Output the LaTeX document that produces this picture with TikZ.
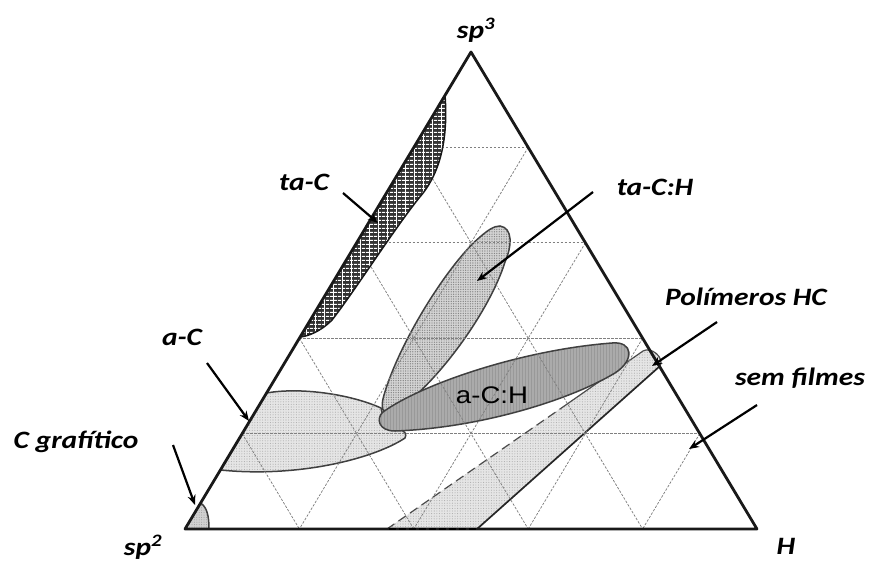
\documentclass[tikz,border=0pt]{standalone}
\usepackage{fontspec}
\newfontfamily\labfont[FakeStretch=1.18]{Carlito}
\newfontfamily\arialfont[FakeStretch=1.15]{Liberation Sans}
\usetikzlibrary{arrows.meta,patterns.meta,calc}
\begin{document}
\begin{tikzpicture}[x=1pt,y=-1pt,
  side/.style={line width=2.8pt, black!90, line join=round},
  gridline/.style={black!50, line width=0.75pt, dash pattern=on 2.5pt off 1.5pt},
  outl/.style={line width=1.5pt, black!75},
  lightreg/.style={fill=black!10, postaction={pattern={Dots[radius=0.55pt,distance=2.6pt]}, pattern color=black!32}},
  midreg/.style={fill=black!17, postaction={pattern={Dots[radius=0.7pt,distance=2.4pt]}, pattern color=black!48}},
  lab/.style={font=\labfont\bfseries\itshape\fontsize{25}{30}\selectfont, inner sep=0pt},
  arr/.style={line width=2.2pt, black, -{Stealth[length=10pt,width=8pt]}},
]
\useasboundingbox (0,0) rectangle (872,563);
\fill[white] (0,0) rectangle (872,563);
\coordinate (A) at (185,529);
\coordinate (B) at (757,529);
\coordinate (C) at (471,52);

% ta-C:H region
\path[midreg] (500,226) .. controls (513,228) and (512,246) .. (505,262)
  .. controls (490,310) and (440,380) .. (398,410)
  .. controls (385,418) and (379,412) .. (384,395)
  .. controls (400,340) and (450,262) .. (480,237)
  .. controls (488,230) and (494,226) .. (500,226) -- cycle;
\draw[outl] (500,226) .. controls (513,228) and (512,246) .. (505,262)
  .. controls (490,310) and (440,380) .. (398,410)
  .. controls (385,418) and (379,412) .. (384,395)
  .. controls (400,340) and (450,262) .. (480,237)
  .. controls (488,230) and (494,226) .. (500,226) -- cycle;

% Polimeros HC band
\path[lightreg] (387,529) -- (643,351) .. controls (651,346) and (665,358) .. (660,366) -- (477,529) -- cycle;
\draw[black!70, line width=1.2pt, dash pattern=on 9pt off 5pt] (387,529) -- (560,409);
\draw[black!70, line width=1.2pt] (560,409) -- (643,351) .. controls (651,346) and (665,358) .. (660,366);
\draw[black!85, line width=1.7pt] (660,366) -- (477,529);

% a-C region
\path[lightreg] (266.5,393) .. controls (300,387) and (350,394) .. (381,408) -- (385,426)
  .. controls (396,428) and (409,430) .. (405,438)
  .. controls (375,458) and (300,478) .. (220.5,470) -- cycle;
\draw[outl] (266.5,393) .. controls (300,387) and (350,394) .. (381,408) -- (385,426)
  .. controls (396,428) and (409,430) .. (405,438)
  .. controls (375,458) and (300,478) .. (220.5,470);

% C grafitico region
\path[fill=black!18, postaction={pattern={Dots[radius=0.5pt,distance=2.4pt]}, pattern color=black!40}]
  (185,529) -- (200.5,503) .. controls (207,507) and (209,516) .. (209,529) -- cycle;
\draw[outl] (200.5,503) .. controls (207,507) and (209,516) .. (209,529);

% a-C:H region
\path[fill=black!33, postaction={pattern={Lines[angle=90,distance=3pt,line width=0.6pt]}, pattern color=black!40}]
  (383,412) .. controls (420,385) and (520,350) .. (612,343)
  .. controls (633,341) and (635,360) .. (615,373)
  .. controls (570,400) and (480,428) .. (395,431)
  .. controls (378,431) and (376,418) .. (383,412) -- cycle;
\draw[outl] (383,412) .. controls (420,385) and (520,350) .. (612,343)
  .. controls (633,341) and (635,360) .. (615,373)
  .. controls (570,400) and (480,428) .. (395,431)
  .. controls (378,431) and (376,418) .. (383,412) -- cycle;

% grid
\foreach \k in {1,2,3,4}{
  \coordinate (L\k) at ($(A)!\k/5!(C)$);
  \coordinate (R\k) at ($(B)!\k/5!(C)$);
  \coordinate (P\k) at ($(A)!\k/5!(B)$);
}
\foreach \k in {1,2,3,4}{
  \pgfmathtruncatemacro{\m}{5-\k}
  \draw[gridline] (L\k) -- (R\k);
  \draw[gridline] (L\k) -- (P\k);
  \draw[gridline] (R\k) -- (P\m);
}

% ta-C region
\path[fill=black!80, postaction={pattern={Lines[angle=0,distance=4pt,line width=1.1pt]}, pattern color=white},
  postaction={pattern={Lines[angle=90,distance=9pt,line width=1pt]}, pattern color=white}]
  (445,95) .. controls (448,135) and (442,172) .. (419,198)
  .. controls (392,232) and (354,292) .. (332,320)
  .. controls (320,332) and (308,336) .. (300.5,337) -- cycle;
\draw[outl, black!90] (445,95) .. controls (448,135) and (442,172) .. (419,198)
  .. controls (392,232) and (354,292) .. (332,320)
  .. controls (320,332) and (308,336) .. (300.5,337);

% triangle
\draw[side] (A) -- (B) -- (C) -- cycle;
\draw[black, line width=2.8pt, dash pattern=on 7pt off 3pt] (389,529) -- (477,529);

% labels
\node[lab] (lsp3) at (476,30) {sp\textsuperscript{3}};
\node[lab] (lsp2) at (143,547) {sp\textsuperscript{2}};
\node[lab] (lH) at (786,546) {H};
\node[lab] (ltaC) at (304,182) {ta-C};
\node[lab] (ltaCH) at (655,187) {ta-C:H};
\node[lab] (laC) at (182,337) {a-C};
\node[lab] (lCg) at (76,442) {C grafítico};
\node[lab] (lPol) at (746,297) {Polímeros HC};
\node[lab] (lsem) at (800,378) {sem filmes};
\node[font=\arialfont\fontsize{24}{28}\selectfont, inner sep=0pt] (laCH) at (492,395) {a-C:H};

% arrows
\coordinate (taCs) at (343,193);   \coordinate (taCt) at (378,223);
\coordinate (taCHs) at (593,192);  \coordinate (taCHt) at (477,281);
\coordinate (aCs) at (207,363);    \coordinate (aCt) at (249,421);
\coordinate (Cgs) at (173,445);    \coordinate (Cgt) at (195,505);
\coordinate (Pols) at (717,322);   \coordinate (Polt) at (652,366);
\coordinate (sems) at (757,405);   \coordinate (semt) at (689,449);
\draw[arr] (taCs) -- (taCt);
\draw[arr] (taCHs) -- (taCHt);
\draw[arr] (aCs) -- (aCt);
\draw[arr] (Cgs) -- (Cgt);
\draw[arr] (Pols) -- (Polt);
\draw[arr] (sems) -- (semt);
\end{tikzpicture}
\end{document}
